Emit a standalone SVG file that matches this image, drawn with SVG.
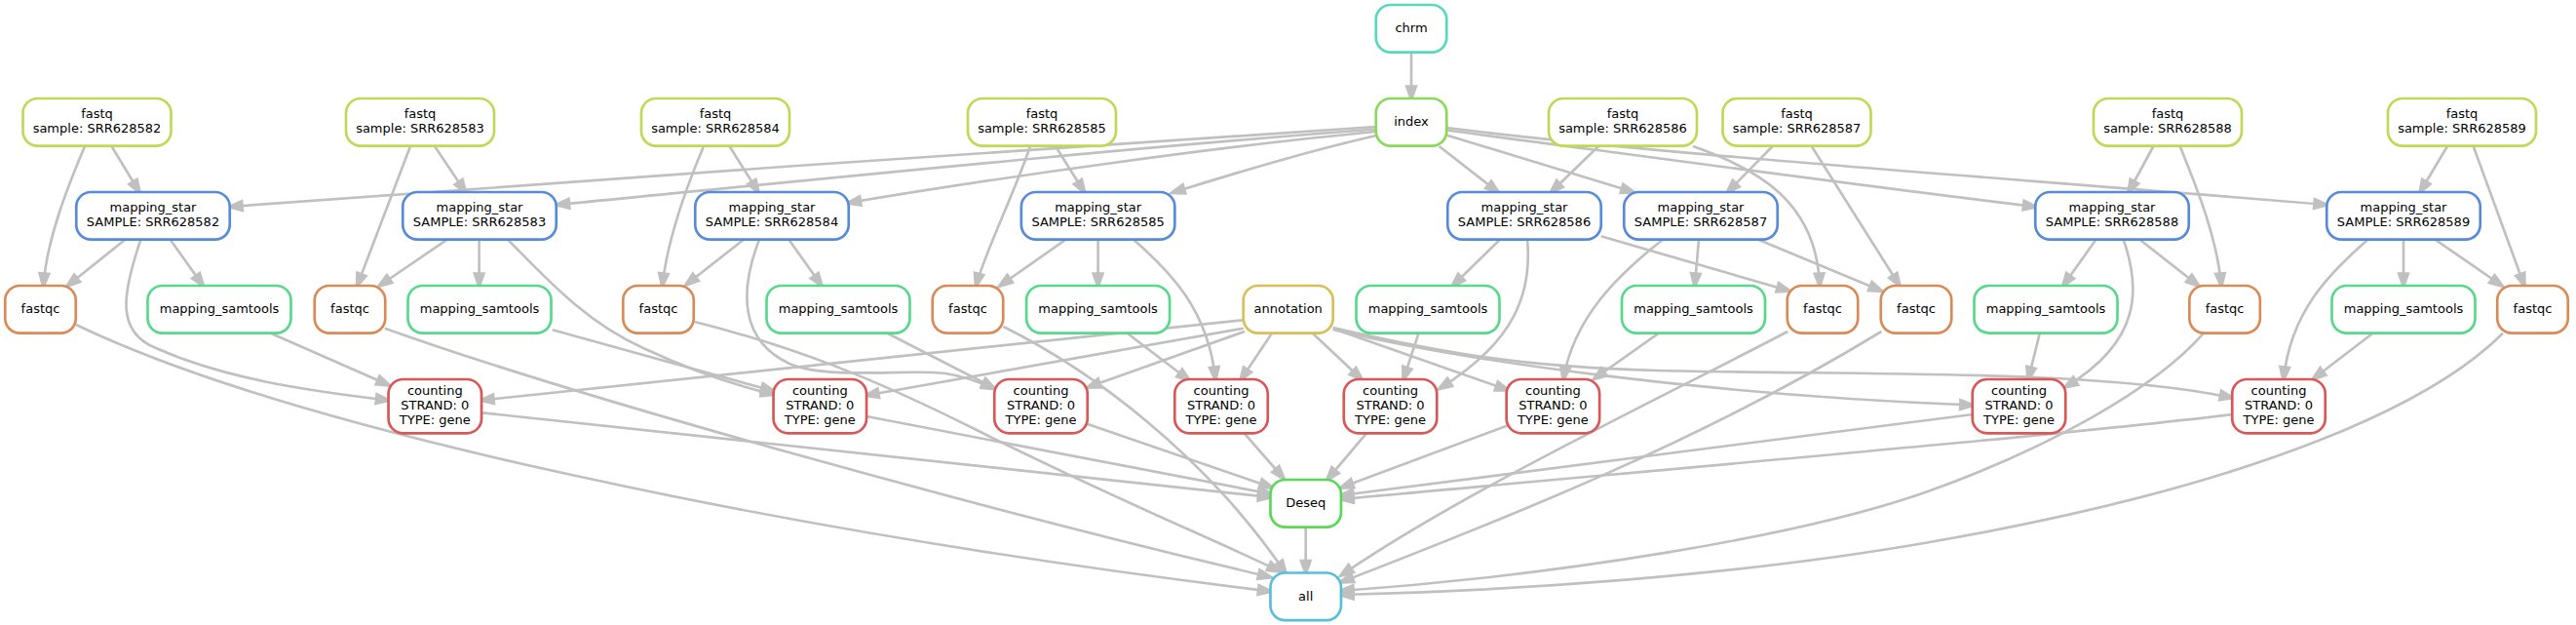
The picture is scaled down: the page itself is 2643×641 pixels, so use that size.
<svg xmlns="http://www.w3.org/2000/svg" width="2643" height="641" viewBox="0 0 2643 641">
<style>
text{font-family:"DejaVu Sans","Liberation Sans",sans-serif;font-size:13px;text-anchor:middle;fill:#000}
.n rect{fill:#fff;stroke-width:2.67}
.fq rect{stroke:#bfd957}.ms rect{stroke:#578bd9}.qc rect{stroke:#d98b57}.sm rect{stroke:#57d98b}
.ct rect{stroke:#d95757}.an rect{stroke:#d9bf57}.ch rect{stroke:#57d9bf}.ix rect{stroke:#8bd957}
.ds rect{stroke:#57d957}.al rect{stroke:#57bfd9}
#edges path{fill:none;stroke:#c0c0c0;stroke-width:2.67;marker-end:url(#ah)}
</style>
<defs>
<marker id="ah" markerUnits="userSpaceOnUse" markerWidth="30" markerHeight="30" refX="-1.5" refY="0" orient="auto" overflow="visible">
<path d="M-14,-4.8 L0,0 L-14,4.8 Z" fill="#c0c0c0" stroke="#c0c0c0" stroke-width="2.67"/>
</marker>
</defs>
<rect width="2643" height="641" fill="#fff"/>
<g id="edges">
<path d="M1448,53.6 L1448,101"/>
<path d="M1411.8,130 C1100,150 550,188 236,212"/>
<path d="M1411.8,132.5 C1150,152 800,188 571.5,210"/>
<path d="M1411.8,135 C1250,150 1020,183 870.5,208"/>
<path d="M1411.8,139 C1330,158 1260,180 1203,197.5"/>
<path d="M1476.6,150 L1537,197"/>
<path d="M1484.1,138.5 L1676,197"/>
<path d="M1484.1,133.5 C1700,162 1950,196 2088.5,212"/>
<path d="M1484.1,131 C1700,158 2000,178 2387,210"/>
<path d="M114.5,150 L143,197"/>
<path d="M87,150 C70,190 48,245 44.5,293"/>
<path d="M446,150 L477.5,197"/>
<path d="M421,150 L366.5,293"/>
<path d="M748.5,150 L778,197"/>
<path d="M722,150 C705,190 685,245 679.5,293"/>
<path d="M1083,150 L1112.5,197"/>
<path d="M1057,150 C1040,200 1010,260 1001.5,293"/>
<path d="M1640,150 L1591.5,197"/>
<path d="M1737,150 C1800,172 1864,205 1867,293"/>
<path d="M1818.7,150 L1772.5,197"/>
<path d="M1858.7,150 L1949,293"/>
<path d="M2209.4,150 L2184,197"/>
<path d="M2236.7,150 C2255,195 2275,245 2279,293"/>
<path d="M2511,150 L2483,197"/>
<path d="M2537.7,150 L2590,293"/>
<path d="M128.4,245.7 L69.4,293"/>
<path d="M174.7,245.7 L208.3,293"/>
<path d="M144.4,245.7 C126,300 118,340 160,357 C230,388 310,400 398.5,410.5"/>
<path d="M458.8,245.7 L389.3,293"/>
<path d="M491.6,245.7 L491.6,293"/>
<path d="M521,245.7 C560,285 600,330 660,357 C705,378 745,393 793.5,404.5"/>
<path d="M763,245.7 L704,292"/>
<path d="M809.4,245.7 L843,293"/>
<path d="M779,245.7 C758,300 760,350 810,373 C850,390 930,378 970,383 C990,386 1005,392 1020,398.5"/>
<path d="M1093.5,245.7 L1026,293"/>
<path d="M1126.6,245.7 L1126.6,293"/>
<path d="M1163,245.7 C1200,278 1240,318 1247,389"/>
<path d="M1538.9,245.7 L1490.5,293"/>
<path d="M1567,245.7 C1572,300 1555,350 1477,398.5"/>
<path d="M1642.8,242.3 L1835.6,298.3"/>
<path d="M1743,245.7 L1738.8,293"/>
<path d="M1706,245.7 C1660,282 1615,325 1604,389"/>
<path d="M1804,245.7 L1930.3,298.3"/>
<path d="M2150.5,245.7 L2116.8,293"/>
<path d="M2195.5,245.7 L2255.7,293"/>
<path d="M2178.7,245.7 C2196,295 2198,350 2119,397"/>
<path d="M2466,245.7 L2466,293"/>
<path d="M2498.5,245.7 L2567,293"/>
<path d="M2429.5,245.7 C2390,280 2350,320 2343,389"/>
<path d="M277.8,341.7 L399,395"/>
<path d="M566.7,338.3 L793.5,401"/>
<path d="M910.4,341.7 L1020,398"/>
<path d="M1156.6,341.7 L1220,390"/>
<path d="M1455.5,341.7 L1440,389"/>
<path d="M1702,341.7 L1635.7,388.5"/>
<path d="M2092.8,341.7 L2081,389"/>
<path d="M2434.5,341.7 L2373.5,388.5"/>
<path d="M1275.7,328.3 L494,410.5"/>
<path d="M1275.7,336.7 L889,405.5"/>
<path d="M1277,340 L1116.5,397"/>
<path d="M1305,341.7 L1273,389.5"/>
<path d="M1346.7,341.7 L1397,389"/>
<path d="M1367.7,337 L1547,400"/>
<path d="M1367.7,338 C1500,370 1750,405 2023.8,415.5"/>
<path d="M1367.7,336 C1480,362 1560,376 1700,380 C1900,385 2150,378 2290.3,408"/>
<path d="M494.5,423.3 L1303.5,510"/>
<path d="M889,427 L1303.5,506.5"/>
<path d="M1116,435 L1305,500"/>
<path d="M1276.6,444.3 L1317,490.5"/>
<path d="M1402,444.3 L1362,491.7"/>
<path d="M1546,436.7 L1376,500"/>
<path d="M2024,425 L1376,508"/>
<path d="M2290.5,425 C2100,448 1700,482 1376,512"/>
<path d="M1339.7,540.6 L1339.7,587.5"/>
<path d="M78,333 C300,440 800,545 1303.5,606.5"/>
<path d="M394.8,336.7 C600,410 1000,520 1303.5,592"/>
<path d="M712.6,330 C820,357 900,390 1000,440 C1150,515 1250,555 1313,586"/>
<path d="M1029.5,335 C1120,380 1235,465 1319,587.5"/>
<path d="M1834.3,340 C1700,410 1500,505 1376,590"/>
<path d="M1930.3,340 C1750,450 1550,530 1376,597"/>
<path d="M2261,341.7 C2210,400 2100,460 1980,503.3 C1850,550 1600,590 1376,606"/>
<path d="M2568,341.7 C2500,410 2330,495 1980,556 C1780,591 1550,606 1376,610"/>
</g>
<g id="n_chrm" class="n ch"><rect x="1411.75" y="5" width="72.5" height="48.6" rx="15"/><text x="1448" y="33.3">chrm</text></g>
<g id="n_index" class="n ix"><rect x="1411.75" y="101" width="72.5" height="48.6" rx="15"/><text x="1448" y="129.3">index</text></g>
<g id="n_fastq_582" class="n fq"><rect x="23.5" y="101" width="152" height="48.6" rx="15"/><text x="99.5" y="121.3">fastq</text><text x="99.5" y="136.1">sample: SRR628582</text></g>
<g id="n_fastq_583" class="n fq"><rect x="355" y="101" width="152" height="48.6" rx="15"/><text x="431" y="121.3">fastq</text><text x="431" y="136.1">sample: SRR628583</text></g>
<g id="n_fastq_584" class="n fq"><rect x="658" y="101" width="152" height="48.6" rx="15"/><text x="734" y="121.3">fastq</text><text x="734" y="136.1">sample: SRR628584</text></g>
<g id="n_fastq_585" class="n fq"><rect x="993" y="101" width="152" height="48.6" rx="15"/><text x="1069" y="121.3">fastq</text><text x="1069" y="136.1">sample: SRR628585</text></g>
<g id="n_fastq_586" class="n fq"><rect x="1589" y="101" width="152" height="48.6" rx="15"/><text x="1665" y="121.3">fastq</text><text x="1665" y="136.1">sample: SRR628586</text></g>
<g id="n_fastq_587" class="n fq"><rect x="1767.5" y="101" width="152" height="48.6" rx="15"/><text x="1843.5" y="121.3">fastq</text><text x="1843.5" y="136.1">sample: SRR628587</text></g>
<g id="n_fastq_588" class="n fq"><rect x="2148" y="101" width="152" height="48.6" rx="15"/><text x="2224" y="121.3">fastq</text><text x="2224" y="136.1">sample: SRR628588</text></g>
<g id="n_fastq_589" class="n fq"><rect x="2450" y="101" width="152" height="48.6" rx="15"/><text x="2526" y="121.3">fastq</text><text x="2526" y="136.1">sample: SRR628589</text></g>
<g id="n_ms_582" class="n ms"><rect x="78.25" y="197" width="157.5" height="48.6" rx="15"/><text x="157" y="217.3">mapping_star</text><text x="157" y="232.1">SAMPLE: SRR628582</text></g>
<g id="n_ms_583" class="n ms"><rect x="413.25" y="197" width="157.5" height="48.6" rx="15"/><text x="492" y="217.3">mapping_star</text><text x="492" y="232.1">SAMPLE: SRR628583</text></g>
<g id="n_ms_584" class="n ms"><rect x="713.25" y="197" width="157.5" height="48.6" rx="15"/><text x="792" y="217.3">mapping_star</text><text x="792" y="232.1">SAMPLE: SRR628584</text></g>
<g id="n_ms_585" class="n ms"><rect x="1047.85" y="197" width="157.5" height="48.6" rx="15"/><text x="1126.6" y="217.3">mapping_star</text><text x="1126.6" y="232.1">SAMPLE: SRR628585</text></g>
<g id="n_ms_586" class="n ms"><rect x="1485.25" y="197" width="157.5" height="48.6" rx="15"/><text x="1564" y="217.3">mapping_star</text><text x="1564" y="232.1">SAMPLE: SRR628586</text></g>
<g id="n_ms_587" class="n ms"><rect x="1666.25" y="197" width="157.5" height="48.6" rx="15"/><text x="1745" y="217.3">mapping_star</text><text x="1745" y="232.1">SAMPLE: SRR628587</text></g>
<g id="n_ms_588" class="n ms"><rect x="2088.25" y="197" width="157.5" height="48.6" rx="15"/><text x="2167" y="217.3">mapping_star</text><text x="2167" y="232.1">SAMPLE: SRR628588</text></g>
<g id="n_ms_589" class="n ms"><rect x="2387.25" y="197" width="157.5" height="48.6" rx="15"/><text x="2466" y="217.3">mapping_star</text><text x="2466" y="232.1">SAMPLE: SRR628589</text></g>
<g id="n_fastqc_582" class="n qc"><rect x="5.25" y="293" width="72.5" height="48.6" rx="15"/><text x="41.5" y="321.3">fastqc</text></g>
<g id="n_fastqc_583" class="n qc"><rect x="322.75" y="293" width="72.5" height="48.6" rx="15"/><text x="359" y="321.3">fastqc</text></g>
<g id="n_fastqc_584" class="n qc"><rect x="639.25" y="293" width="72.5" height="48.6" rx="15"/><text x="675.5" y="321.3">fastqc</text></g>
<g id="n_fastqc_585" class="n qc"><rect x="956.75" y="293" width="72.5" height="48.6" rx="15"/><text x="993" y="321.3">fastqc</text></g>
<g id="n_fastqc_586" class="n qc"><rect x="1833.75" y="293" width="72.5" height="48.6" rx="15"/><text x="1870" y="321.3">fastqc</text></g>
<g id="n_fastqc_587" class="n qc"><rect x="1929.75" y="293" width="72.5" height="48.6" rx="15"/><text x="1966" y="321.3">fastqc</text></g>
<g id="n_fastqc_588" class="n qc"><rect x="2246.35" y="293" width="72.5" height="48.6" rx="15"/><text x="2282.6" y="321.3">fastqc</text></g>
<g id="n_fastqc_589" class="n qc"><rect x="2562.25" y="293" width="72.5" height="48.6" rx="15"/><text x="2598.5" y="321.3">fastqc</text></g>
<g id="n_sam_582" class="n sm"><rect x="151.5" y="293" width="147" height="48.6" rx="15"/><text x="225" y="321.3">mapping_samtools</text></g>
<g id="n_sam_583" class="n sm"><rect x="418.5" y="293" width="147" height="48.6" rx="15"/><text x="492" y="321.3">mapping_samtools</text></g>
<g id="n_sam_584" class="n sm"><rect x="786.5" y="293" width="147" height="48.6" rx="15"/><text x="860" y="321.3">mapping_samtools</text></g>
<g id="n_sam_585" class="n sm"><rect x="1053.1" y="293" width="147" height="48.6" rx="15"/><text x="1126.6" y="321.3">mapping_samtools</text></g>
<g id="n_sam_586" class="n sm"><rect x="1391.5" y="293" width="147" height="48.6" rx="15"/><text x="1465" y="321.3">mapping_samtools</text></g>
<g id="n_sam_587" class="n sm"><rect x="1664" y="293" width="147" height="48.6" rx="15"/><text x="1737.5" y="321.3">mapping_samtools</text></g>
<g id="n_sam_588" class="n sm"><rect x="2025.5" y="293" width="147" height="48.6" rx="15"/><text x="2099" y="321.3">mapping_samtools</text></g>
<g id="n_sam_589" class="n sm"><rect x="2392.5" y="293" width="147" height="48.6" rx="15"/><text x="2466" y="321.3">mapping_samtools</text></g>
<g id="n_annotation" class="n an"><rect x="1275.7" y="293" width="92" height="48.6" rx="15"/><text x="1321.7" y="321.3">annotation</text></g>
<g id="n_count_582" class="n ct"><rect x="398.55" y="389" width="95.5" height="55.3" rx="15"/><text x="446.3" y="405.25">counting</text><text x="446.3" y="420.05">STRAND: 0</text><text x="446.3" y="434.85">TYPE: gene</text></g>
<g id="n_count_583" class="n ct"><rect x="793.55" y="389" width="95.5" height="55.3" rx="15"/><text x="841.3" y="405.25">counting</text><text x="841.3" y="420.05">STRAND: 0</text><text x="841.3" y="434.85">TYPE: gene</text></g>
<g id="n_count_584" class="n ct"><rect x="1020.25" y="389" width="95.5" height="55.3" rx="15"/><text x="1068" y="405.25">counting</text><text x="1068" y="420.05">STRAND: 0</text><text x="1068" y="434.85">TYPE: gene</text></g>
<g id="n_count_585" class="n ct"><rect x="1205.25" y="389" width="95.5" height="55.3" rx="15"/><text x="1253" y="405.25">counting</text><text x="1253" y="420.05">STRAND: 0</text><text x="1253" y="434.85">TYPE: gene</text></g>
<g id="n_count_586" class="n ct"><rect x="1378.75" y="389" width="95.5" height="55.3" rx="15"/><text x="1426.5" y="405.25">counting</text><text x="1426.5" y="420.05">STRAND: 0</text><text x="1426.5" y="434.85">TYPE: gene</text></g>
<g id="n_count_587" class="n ct"><rect x="1545.65" y="389" width="95.5" height="55.3" rx="15"/><text x="1593.4" y="405.25">counting</text><text x="1593.4" y="420.05">STRAND: 0</text><text x="1593.4" y="434.85">TYPE: gene</text></g>
<g id="n_count_588" class="n ct"><rect x="2023.75" y="389" width="95.5" height="55.3" rx="15"/><text x="2071.5" y="405.25">counting</text><text x="2071.5" y="420.05">STRAND: 0</text><text x="2071.5" y="434.85">TYPE: gene</text></g>
<g id="n_count_589" class="n ct"><rect x="2290.25" y="389" width="95.5" height="55.3" rx="15"/><text x="2338" y="405.25">counting</text><text x="2338" y="420.05">STRAND: 0</text><text x="2338" y="434.85">TYPE: gene</text></g>
<g id="n_deseq" class="n ds"><rect x="1303.45" y="492" width="72.5" height="48.6" rx="15"/><text x="1339.7" y="520.3">Deseq</text></g>
<g id="n_all" class="n al"><rect x="1303.45" y="587.5" width="72.5" height="48.6" rx="15"/><text x="1339.7" y="615.8">all</text></g>
</svg>
